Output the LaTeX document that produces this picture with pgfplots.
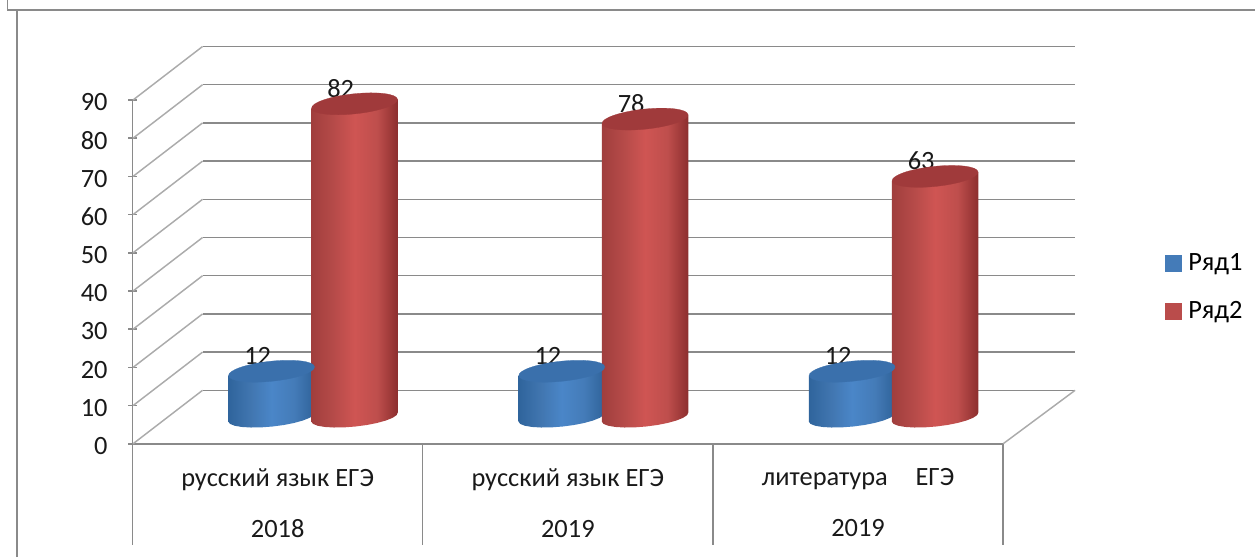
\documentclass[border=0pt]{standalone}
\usepackage{pgfplots}
\usepackage{pgfplotstable}
\usepackage{fontspec}
\setmainfont{Carlito}
\pgfplotsset{compat=1.18}
\definecolor{gridc}{HTML}{8A8A8A}
\definecolor{diagc}{HTML}{ABABAB}
\definecolor{redL}{HTML}{A03E3D}
\definecolor{redM}{HTML}{CF5553}
\definecolor{redR}{HTML}{8C2E2E}
\definecolor{redT}{HTML}{A03A3B}
\definecolor{blueL}{HTML}{2F649C}
\definecolor{blueM}{HTML}{4A86C8}
\definecolor{blueR}{HTML}{2F6299}
\definecolor{blueT}{HTML}{3A70AC}
\pgfdeclarehorizontalshading{cylred}{100bp}{color(0bp)=(redL); color(25bp)=(redL); color(38bp)=(redM!88!black); color(50bp)=(redM); color(63bp)=(redM!92!black); color(75bp)=(redR); color(100bp)=(redR)}
\pgfdeclarehorizontalshading{cylblue}{100bp}{color(0bp)=(blueL); color(25bp)=(blueL); color(38bp)=(blueM!88!black); color(50bp)=(blueM); color(63bp)=(blueM!92!black); color(75bp)=(blueR); color(100bp)=(blueR)}
\pgfplotstableread{
dx dy top
-43.26 -4.55 1
43.26 4.55 1
43.26 4.55 0
42.04 1.94 0
37.96 -0.79 0
31.29 -3.47 0
22.49 -5.91 0
12.16 -7.95 0
0.99 -9.45 0
-10.24 -10.31 0
-20.77 -10.45 0
-29.89 -9.89 0
-36.97 -8.66 0
-41.53 -6.84 0
-43.26 -4.55 0
}\cylshape
\newcommand{\cyl}[3]{%
  \addplot[draw=none,forget plot,shade,shading=cyl#3]
    table[x expr=\thisrow{dx}+#1,y expr=\thisrow{dy}/3.82+\thisrow{top}*#2+7] {\cylshape};
  \addplot[only marks,forget plot,mark=*,mark size=32.4pt,
    mark options={rotate=6,xscale=1,yscale=0.232,draw=#3T,line width=0.2pt,fill=#3T}]
    coordinates {(#1,#2+7)};
}
\begin{document}
\begin{tikzpicture}
\path[use as bounding box] (0,0) rectangle (941.25pt,417.75pt);
\draw[gridc,line width=1.1pt] (12.75pt,0pt) -- (12.75pt,410.25pt) -- (941.25pt,410.25pt);
\draw[gridc,line width=1.1pt] (5.5pt,417.75pt) -- (5.5pt,410.25pt) -- (12.75pt,410.25pt);
\begin{axis}[
  at={(99.4pt,84.9pt)},anchor=south west,
  scale only axis,width=652.9pt,height=257.85pt,
  xmin=132.5,xmax=1003,ymin=0,ymax=90,
  clip=false,
  axis lines=left,
  axis line style={-,gridc,line width=1.1pt},
  tick style={gridc,line width=1.1pt},
  major tick length=6.4pt,
  /pgf/number format/assume math mode=true,
  ytick={0,10,...,90},
  xtick={277.6,567.8,858},
  xticklabels={{русский язык ЕГЭ\\[14.5pt]2018},{русский язык ЕГЭ\\[14.5pt]2019},{литература\hspace{1.05em}ЕГЭ\\[14.5pt]2019}},
  xtick style={draw=none},
  tick label style={font=\fontsize{19.8}{23.5}\selectfont,text=black!90},
  xticklabel style={align=center,yshift=-12pt},
  yticklabel style={xshift=-12pt,yshift=-1.6pt},
  legend style={at={(1.186,0.455)},anchor=west,draw=none,fill=none,
    font=\fontsize{19.8}{23.5}\selectfont,row sep=17.5pt,inner sep=0pt},
  legend cell align=left,
]
\addlegendimage{legend image code/.code={\fill[blueM!92!black] (0.1cm,-6pt) rectangle (0.1cm+12pt,6pt);}}
\addlegendentry{\hspace{3pt}Ряд1}
\addlegendimage{legend image code/.code={\fill[redM!90!black] (0.1cm,-6pt) rectangle (0.1cm+12pt,6pt);}}
\addlegendentry{\hspace{3pt}Ряд2}
% wall grid
\pgfplotsinvokeforeach{0,10,...,90}{
  \addplot[diagc,line width=1.1pt,forget plot] coordinates {(133,#1) (202.5,#1+14)};
  \addplot[gridc,line width=1.1pt,forget plot] coordinates {(202.5,#1+14) (1075,#1+14)};
}
\addplot[diagc,line width=1.1pt,forget plot] coordinates {(1003,0) (1075,14)};
% category separators
\addplot[gridc,line width=1.1pt,forget plot] coordinates {(132.5,0) (132.5,-26.6)};
\addplot[gridc,line width=1.1pt,forget plot] coordinates {(422.7,0) (422.7,-26.6)};
\addplot[gridc,line width=1.1pt,forget plot] coordinates {(712.9,0) (712.9,-26.6)};
\addplot[gridc,line width=1.1pt,forget plot] coordinates {(1003,0) (1003,-26.6)};
% data labels (behind the cylinders)
\addplot[draw=none,forget plot,nodes near coords,
  every node near coord/.append style={anchor=center,xshift=-10.4pt,yshift=31.6pt,
    font=\fontsize{19.8}{23.5}\selectfont,text=black!90}]
  coordinates {(271.5,12) (561.7,12) (852,12) (354.5,82) (645,78) (935,63)};
% Ряд1
\cyl{271.5}{12}{blue}
\cyl{561.7}{12}{blue}
\cyl{852}{12}{blue}
% Ряд2
\cyl{354.5}{82}{red}
\cyl{645}{78}{red}
\cyl{935}{63}{red}
\end{axis}
\end{tikzpicture}
\end{document}
